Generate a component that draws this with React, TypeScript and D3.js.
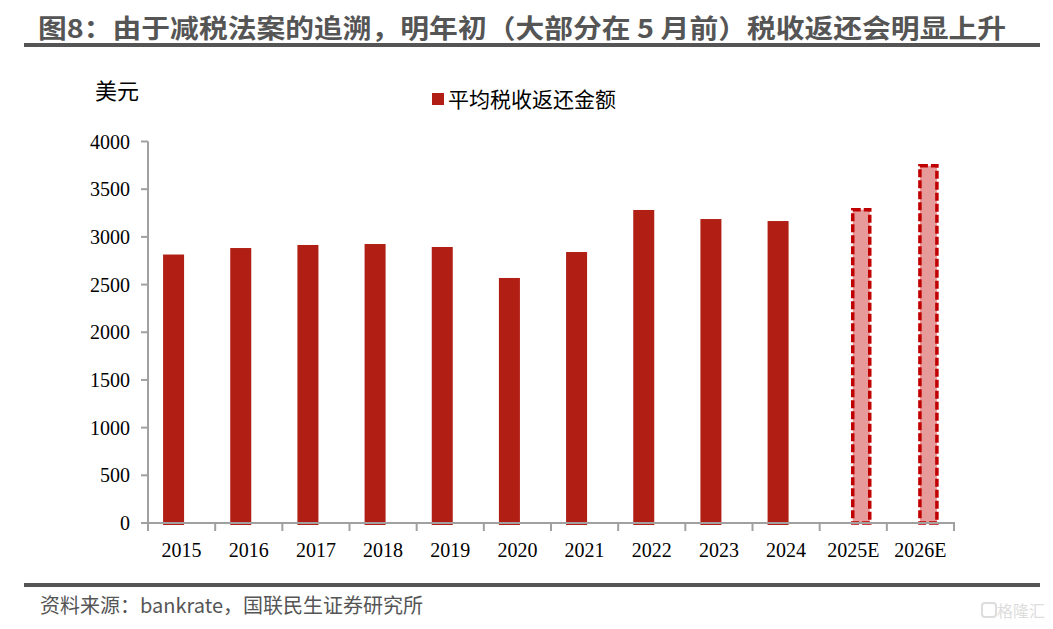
import { useEffect, useRef } from "react"
import * as d3 from "d3"

const years = ["2015", "2016", "2017", "2018", "2019", "2020", "2021", "2022", "2023", "2024", "2025E", "2026E"]
// actual refunds (null for estimate years)
const actual: (number | null)[] = [2815, 2883, 2915, 2925, 2894, 2569, 2841, 3282, 3187, 3166, null, null]
// estimates
const estimate: (number | null)[] = [null, null, null, null, null, null, null, null, null, null, 3285, 3745]
const yTicks = [0, 500, 1000, 1500, 2000, 2500, 3000, 3500, 4000]

const title = "图8：由于减税法案的追溯，明年初（大部分在 5 月前）税收返还会明显上升"
const source = "资料来源：bankrate，国联民生证券研究所"
const legendLabel = "平均税收返还金额"
const unit = "美元"

const W = 1053
const H = 629

const App = () => {
  const svgRef = useRef<SVGSVGElement | null>(null)

  useEffect(() => {
    if (!svgRef.current) return
    const svg = d3.select(svgRef.current)
    svg.selectAll("*").remove()

    const sans = "'Noto Sans CJK SC', 'Noto Sans', sans-serif"
    const serif = "'Liberation Serif', 'Times New Roman', serif"

    // title + rule
    svg.append("text")
      .attr("x", 38).attr("y", 38)
      .attr("font-family", sans).attr("font-weight", "bold")
      .attr("font-size", 26).attr("fill", "#555")
      .attr("textLength", 968).attr("lengthAdjust", "spacingAndGlyphs")
      .text(title)
    svg.append("rect").attr("x", 24).attr("y", 43).attr("width", 1016).attr("height", 4).attr("fill", "#555")

    const x = d3.scaleBand().domain(years).range([148, 954]).padding(0)
    const y = d3.scaleLinear().domain([0, 4000]).range([523, 141.5])
    const barW = 21
    const off = 8

    // actual bars
    svg.append("g").selectAll("rect")
      .data(years.map((yr, i) => ({ yr, v: actual[i] })).filter((d) => d.v != null))
      .join("rect")
      .attr("x", (d) => x(d.yr)! + x.bandwidth() / 2 - off - barW / 2)
      .attr("y", (d) => y(d.v as number))
      .attr("width", barW)
      .attr("height", (d) => y(0) - y(d.v as number) + 2)
      .attr("fill", "#B01E14")

    // estimate bars
    svg.append("g").selectAll("rect")
      .data(years.map((yr, i) => ({ yr, v: estimate[i] })).filter((d) => d.v != null))
      .join("rect")
      .attr("x", (d) => x(d.yr)! + x.bandwidth() / 2 + off - (barW - 4) / 2)
      .attr("y", (d) => y(d.v as number))
      .attr("width", barW - 4)
      .attr("height", (d) => y(0) - y(d.v as number))
      .attr("fill", "#E69A9A")
      .attr("stroke", "#C00000")
      .attr("stroke-width", 3.5)
      .attr("stroke-dasharray", "8,3")

    // y axis
    const axisColor = "#a0a0a0"
    const yAxis = svg.append("g")
    yAxis.append("line").attr("x1", 148).attr("x2", 148).attr("y1", y(4000)).attr("y2", y(0))
      .attr("stroke", axisColor).attr("stroke-width", 2)
    yAxis.selectAll("line.t").data(yTicks).join("line").attr("class", "t")
      .attr("x1", 141).attr("x2", 148).attr("y1", (d) => y(d)).attr("y2", (d) => y(d))
      .attr("stroke", axisColor).attr("stroke-width", 2)
    yAxis.selectAll("text").data(yTicks).join("text")
      .attr("x", 130).attr("y", (d) => y(d)).attr("dy", "0.35em")
      .attr("text-anchor", "end").attr("font-family", serif).attr("font-size", 20).attr("fill", "#000")
      .text((d) => d)

    // x axis
    const xAxis = svg.append("g")
    xAxis.append("line").attr("x1", 141).attr("x2", 955).attr("y1", y(0)).attr("y2", y(0))
      .attr("stroke", axisColor).attr("stroke-width", 2)
    const bounds = years.map((yr) => x(yr)!).concat([954])
    xAxis.selectAll("line.t").data(bounds).join("line").attr("class", "t")
      .attr("x1", (d) => d).attr("x2", (d) => d).attr("y1", y(0)).attr("y2", y(0) + 8)
      .attr("stroke", axisColor).attr("stroke-width", 2)
    xAxis.selectAll("text").data(years).join("text")
      .attr("x", (d) => x(d)! + x.bandwidth() / 2).attr("y", 557)
      .attr("text-anchor", "middle").attr("font-family", serif).attr("font-size", 20).attr("fill", "#000")
      .text((d) => d)

    // unit label
    svg.append("text").attr("x", 95).attr("y", 99)
      .attr("font-family", sans).attr("font-size", 22).attr("fill", "#000").text(unit)

    // legend
    svg.append("rect").attr("x", 432).attr("y", 93).attr("width", 12).attr("height", 12).attr("fill", "#B01E14")
    svg.append("text").attr("x", 448).attr("y", 107)
      .attr("font-family", sans).attr("font-size", 21).attr("fill", "#000").text(legendLabel)

    // bottom rule + source
    svg.append("rect").attr("x", 24).attr("y", 583).attr("width", 1016).attr("height", 4).attr("fill", "#555")
    svg.append("text").attr("x", 40).attr("y", 613)
      .attr("font-family", sans).attr("font-size", 20).attr("fill", "#555").text(source)

    // watermark
    svg.append("text").attr("x", 1045).attr("y", 617).attr("text-anchor", "end")
      .attr("font-family", sans).attr("font-size", 16).attr("fill", "#ddd").text("格隆汇")
    svg.append("rect").attr("x", 982).attr("y", 603).attr("width", 14).attr("height", 14).attr("rx", 3)
      .attr("fill", "none").attr("stroke", "#ddd").attr("stroke-width", 2)
  }, [])

  return (
    <div style={{ position: "absolute", left: 0, top: 0 }}>
      <svg ref={svgRef} width={W} height={H} style={{ display: "block", background: "#fff" }} />
    </div>
  )
}

export default App
